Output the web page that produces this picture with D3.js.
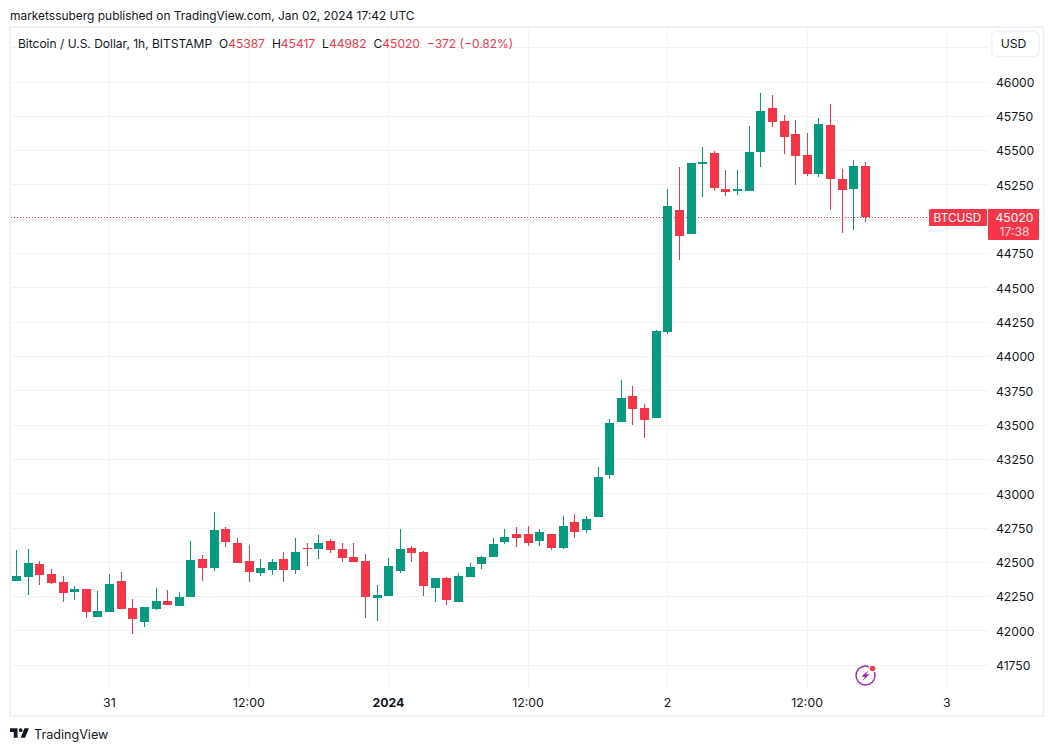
<!doctype html>
<html lang="en">
<head>
<meta charset="utf-8">
<title>Bitcoin / U.S. Dollar, 1h</title>
<script src="https://d3js.org/d3.v7.min.js"></script>
<style>
  html, body { margin: 0; padding: 0; background: #ffffff; }
  svg { display: block; font-family: Inter, "Liberation Sans", sans-serif; }
</style>
</head>
<body>
<script>
// hourly candles, first one is Dec 30 16:00
var opens = [42364,42393,42488,42415,42357,42284,42306,42102,42138,42364,42168,42066,42160,42219,42182,42248,42525,42459,42743,42641,42510,42423,42444,42525,42444,42605,42598,42656,42598,42539,42510,42240,42255,42437,42605,42576,42313,42386,42211,42393,42488,42539,42648,42707,42707,42656,42707,42605,42794,42736,42831,43137,43523,43712,43625,43552,44179,45067,44893,45403,45483,45220,45206,45206,45490,45811,45716,45621,45468,45330,45687,45293,45220,45387];
var highs = [42590,42598,42510,42452,42401,42328,42306,42291,42415,42430,42233,42175,42313,42299,42284,42656,42554,42867,42758,42678,42627,42525,42525,42576,42678,42641,42699,42670,42641,42641,42561,42335,42532,42743,42619,42583,42386,42393,42423,42495,42546,42678,42743,42758,42765,42743,42707,42838,42852,42838,43195,43545,43829,43785,43654,44193,45220,45381,45410,45526,45497,45359,45359,45679,45920,45905,45760,45723,45628,45738,45840,45366,45432,45417];
var lows = [42364,42262,42335,42343,42211,42226,42095,42102,42138,42160,41978,42029,42153,42190,42182,42248,42364,42437,42612,42495,42357,42401,42408,42357,42415,42474,42525,42568,42503,42503,42095,42073,42255,42423,42503,42255,42211,42190,42211,42393,42452,42539,42634,42612,42619,42619,42590,42598,42678,42714,42831,43108,43523,43501,43406,43552,44164,44703,44893,45162,45206,45169,45177,45206,45381,45672,45475,45250,45315,45308,45067,44900,44922,44982];
var closes = [42401,42495,42408,42350,42277,42306,42138,42146,42343,42160,42087,42175,42219,42190,42248,42517,42459,42736,42648,42495,42430,42459,42503,42444,42576,42598,42641,42590,42532,42503,42248,42262,42474,42598,42568,42328,42386,42226,42401,42466,42539,42634,42685,42678,42641,42721,42605,42765,42721,42816,43122,43516,43698,43618,43537,44186,45097,44878,45410,45417,45228,45199,45220,45490,45789,45709,45599,45461,45330,45694,45293,45213,45388,45020];

var priceTicks = [46000,45750,45500,45250,44750,44500,44250,44000,43750,43500,43250,43000,42750,42500,42250,42000,41750];
var gridPrices = [46250,46000,45750,45500,45250,45000,44750,44500,44250,44000,43750,43500,43250,43000,42750,42500,42250,42000,41750];
var timeIndex = [8,20,32,44,56,68,80];
var timeLabels = ["31","12:00","2024","12:00","2","12:00","3"];

var lastPrice = 45020;
var green = "#089981", red = "#f53649";
var w = 1054, h = 751;

var svg = d3.select("body").append("svg")
  .attr("width", w)
  .attr("height", h);

var x = d3.scaleLinear().domain([0, 73]).range([16.5, 865.5]);
var y = d3.scaleLinear().domain([41750, 46250]).range([665.3, 47.7]);

function px(v) { return Math.floor(v) + 0.5; }

// grid
var grid = svg.append("g");
grid.selectAll("line.h").data(gridPrices).enter().append("line")
  .attr("x1", 11).attr("x2", 988)
  .attr("y1", function(d) { return px(y(d)); })
  .attr("y2", function(d) { return px(y(d)); })
  .style("stroke", "#f3f3f6");
grid.selectAll("line.v").data(timeIndex).enter().append("line")
  .attr("y1", 28).attr("y2", 688)
  .attr("x1", function(d) { return px(x(d)); })
  .attr("x2", function(d) { return px(x(d)); })
  .style("stroke", "#f3f3f6");

// frame
svg.append("rect")
  .attr("x", 10).attr("y", 27).attr("width", 1033.5).attr("height", 689)
  .style("fill", "none")
  .style("stroke", "#f0f1f6")
  .style("stroke-width", 2);

// last price line
svg.append("line")
  .attr("x1", 11).attr("x2", 929)
  .attr("y1", 217.5).attr("y2", 217.5)
  .style("stroke", red)
  .style("stroke-dasharray", "1 2");

// candles
var idx = d3.range(opens.length);
var candles = svg.append("g");
candles.selectAll("line").data(idx).enter().append("line")
  .attr("x1", function(i) { return px(x(i)); })
  .attr("x2", function(i) { return px(x(i)); })
  .attr("y1", function(i) { return Math.round(y(highs[i])); })
  .attr("y2", function(i) { return Math.round(y(lows[i])); })
  .style("stroke", function(i) { return closes[i] >= opens[i] ? green : red; });
candles.selectAll("rect").data(idx).enter().append("rect")
  .attr("x", function(i) { return Math.floor(x(i)) - 4; })
  .attr("width", 9)
  .attr("y", function(i) { return Math.round(y(Math.max(opens[i], closes[i]))); })
  .attr("height", function(i) {
    return Math.max(1, Math.round(y(Math.min(opens[i], closes[i]))) - Math.round(y(Math.max(opens[i], closes[i]))));
  })
  .style("fill", function(i) { return closes[i] >= opens[i] ? green : red; });

// price axis
var priceAxis = d3.axisRight(y).tickValues(priceTicks).tickFormat(d3.format("d")).tickSize(0).tickPadding(0);
var gy = svg.append("g").attr("transform", "translate(996,0.4)").call(priceAxis);
gy.select(".domain").remove();
gy.selectAll("text")
  .style("font-family", "Inter, sans-serif")
  .style("font-size", "12.2px")
  .style("fill", "#131722");

// time axis
var timeAxis = d3.axisBottom(x).tickValues(timeIndex)
  .tickFormat(function(d, i) { return timeLabels[i]; })
  .tickSize(0).tickPadding(0);
var gx = svg.append("g").attr("transform", "translate(-0.7,698.5)").call(timeAxis);
gx.select(".domain").remove();
gx.selectAll("text")
  .style("font-family", "Inter, sans-serif")
  .style("font-size", "12.3px")
  .style("fill", "#131722")
  .style("font-weight", function(d) { return d === 32 ? 700 : 400; });

// last price tags
svg.append("rect").attr("x", 929).attr("y", 209).attr("width", 58).attr("height", 17).attr("rx", 1.5).style("fill", red);
svg.append("rect").attr("x", 988).attr("y", 209).attr("width", 51).attr("height", 31).attr("rx", 1).style("fill", red);
svg.append("text").attr("x", 957.5).attr("y", 222).attr("text-anchor", "middle")
  .style("font-size", "11.8px").style("fill", "#ffffff").text("BTCUSD");
svg.append("text").attr("x", 1014.5).attr("y", 222).attr("text-anchor", "middle")
  .style("font-size", "12.2px").style("fill", "#ffffff").text(d3.format("d")(lastPrice));
svg.append("text").attr("x", 1014.5).attr("y", 236).attr("text-anchor", "middle")
  .style("font-size", "12.2px").style("fill", "#ffffff").style("opacity", 0.8).text("17:38");

// USD button
svg.append("rect").attr("x", 992).attr("y", 31.5).attr("width", 47.5).attr("height", 25).attr("rx", 5)
  .style("fill", "#ffffff").style("stroke", "#f0f1f6").style("stroke-width", 1.5);
svg.append("text").attr("x", 1013.5).attr("y", 48)
  .attr("text-anchor", "middle")
  .style("font-size", "12.2px").style("fill", "#131722").text("USD");

// header
svg.append("text").attr("x", 10).attr("y", 19.5)
  .style("font-size", "11.95px").style("fill", "#131722")
  .text("marketssuberg published on TradingView.com, Jan 02, 2024 17:42 UTC");

// legend
var legend = svg.append("text").attr("x", 18).attr("y", 47.5)
  .style("font-size", "12px").style("fill", "#131722");
legend.append("tspan").text("Bitcoin / U.S. Dollar, 1h, BITSTAMP");
var parts = [["O", "45387"], ["H", "45417"], ["L", "44982"], ["C", "45020"]];
parts.forEach(function(p) {
  legend.append("tspan").attr("dx", 7).text(p[0]);
  legend.append("tspan").style("fill", red).text(p[1]);
});
legend.append("tspan").attr("dx", 7).style("fill", red).text("\u2212372 (\u22120.82%)");

// lightning icon
var icon = svg.append("g").attr("transform", "translate(865.5,675.5)");
icon.append("circle").attr("r", 9.5)
  .style("fill", "none").style("stroke", "#9c27b0").style("stroke-width", 1.4);
icon.append("path").attr("d", "M2.8 -5.2 L-4.2 1.2 L-0.6 1.2 L-2.8 5.2 L4.2 -1.2 L0.6 -1.2 Z")
  .style("fill", "#9c27b0");
icon.append("circle").attr("cx", 7).attr("cy", -7).attr("r", 4).style("fill", "#ffffff");
icon.append("circle").attr("cx", 7).attr("cy", -7).attr("r", 2.7).style("fill", red);

// TradingView logo
svg.append("path")
  .attr("transform", "translate(8.7,724.5) scale(0.63)")
  .attr("d", "M14 6H2v6h6v9h6V6Zm12 15h-7l6-15h7l-6 15Zm-7-9a3 3 0 1 0 0-6 3 3 0 0 0 0 6Z")
  .style("fill", "#131722");
svg.append("text").attr("x", 34).attr("y", 739)
  .style("font-size", "12.6px").style("fill", "#131722").text("TradingView");
</script>
</body>
</html>
